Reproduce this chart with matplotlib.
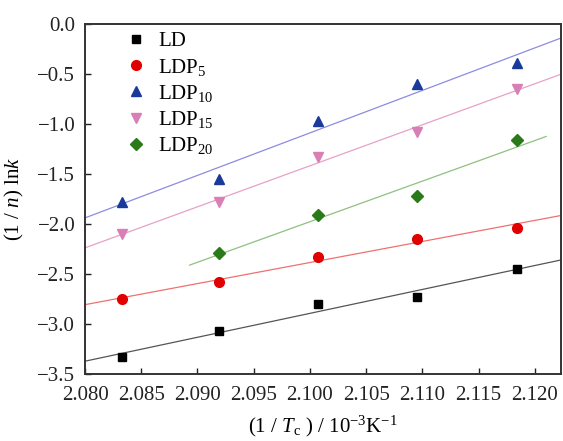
import numpy as np
import matplotlib
matplotlib.use('Agg')
import matplotlib.pyplot as plt

# data
x = [2.0833, 2.0919, 2.1007, 2.1095, 2.1184]
ld = [-3.33, -3.07, -2.80, -2.73, -2.45]
ldp5 = [-2.75, -2.58, -2.33, -2.15, -2.04]
ldp10 = [-1.78, -1.55, -0.97, -0.60, -0.39]
ldp15 = [-2.10, -1.78, -1.33, -1.08, -0.65]
x20 = [2.0919, 2.1007, 2.1095, 2.1184]
ldp20 = [-2.29, -1.91, -1.72, -1.16]

# x range of the fitted lines
fit_range = [2.080, 2.1223]
fit_range20 = [2.0893, 2.1210]

labels = ['LD', 'LDP$_5$', 'LDP$_{10}$', 'LDP$_{15}$', 'LDP$_{20}$']

plt.rcParams['font.family'] = ['Liberation Serif', 'DejaVu Serif']
plt.rcParams['mathtext.fontset'] = 'custom'
plt.rcParams['mathtext.rm'] = 'Liberation Serif'
plt.rcParams['mathtext.it'] = 'Liberation Serif:italic'

fig = plt.figure(figsize=(5.63, 4.41), dpi=100)
ax = fig.add_axes([0.151, 0.152, 0.845, 0.794])

series = [
    (x, ld, 's', '#000000', '#555555', fit_range),
    (x, ldp5, 'o', '#e00000', '#f07070', fit_range),
    (x, ldp10, '^', '#1a3a9a', '#8c8ce0', fit_range),
    (x, ldp15, 'v', '#d97fb5', '#e8a0c8', fit_range),
    (x20, ldp20, 'D', '#2a7a1a', '#90c080', fit_range20),
]

for (xs, ys, m, c, lc, rng), lab in zip(series, labels):
    ms = 6 if m in ('D', 's') else 7
    ax.plot(xs, ys, m, color=c, ms=ms, linestyle='none', label=lab, zorder=3)
    k, b = np.polyfit(xs, ys, 1)
    xf = np.array(rng)
    ax.plot(xf, k * xf + b, '-', color=lc, lw=0.9, zorder=2)

xticks = np.arange(2.080, 2.1201, 0.005)
yticks = np.arange(-3.5, 0.01, 0.5)
ax.set_xlim(2.080, 2.1223)
ax.set_ylim(-3.5, 0.0)
ax.set_xticks(xticks)
ax.set_xticklabels(['%.3f' % v for v in xticks])
ax.set_yticks(yticks)
ax.set_yticklabels([('%.1f' % abs(v)) if abs(v) < 1e-9 else ('\u2212%.1f' % abs(v)) for v in yticks])
ax.tick_params(direction='in', length=4, width=1, labelsize=15, colors='#222222')
ax.tick_params(axis='x', pad=9)
ax.tick_params(axis='y', pad=7)
for s in ax.spines.values():
    s.set_linewidth(1.4)
    s.set_color('#333333')

ax.set_xlabel(r'(1 / $T_{\rm c}$ ) / 10$^{-3}$K$^{-1}$', fontsize=15)
ax.set_ylabel(r'(1 / $n$) ln$k$', fontsize=15)
ax.xaxis.set_label_coords(0.5, -0.115)
ax.yaxis.set_label_coords(-0.125, 0.5)

ax.legend(loc='upper left', bbox_to_anchor=(0.04, 1.025), frameon=False, fontsize=15,
          handletextpad=0.3, labelspacing=0.25, borderpad=0.3, handlelength=1.5)

fig.savefig('out.png', dpi=100)
